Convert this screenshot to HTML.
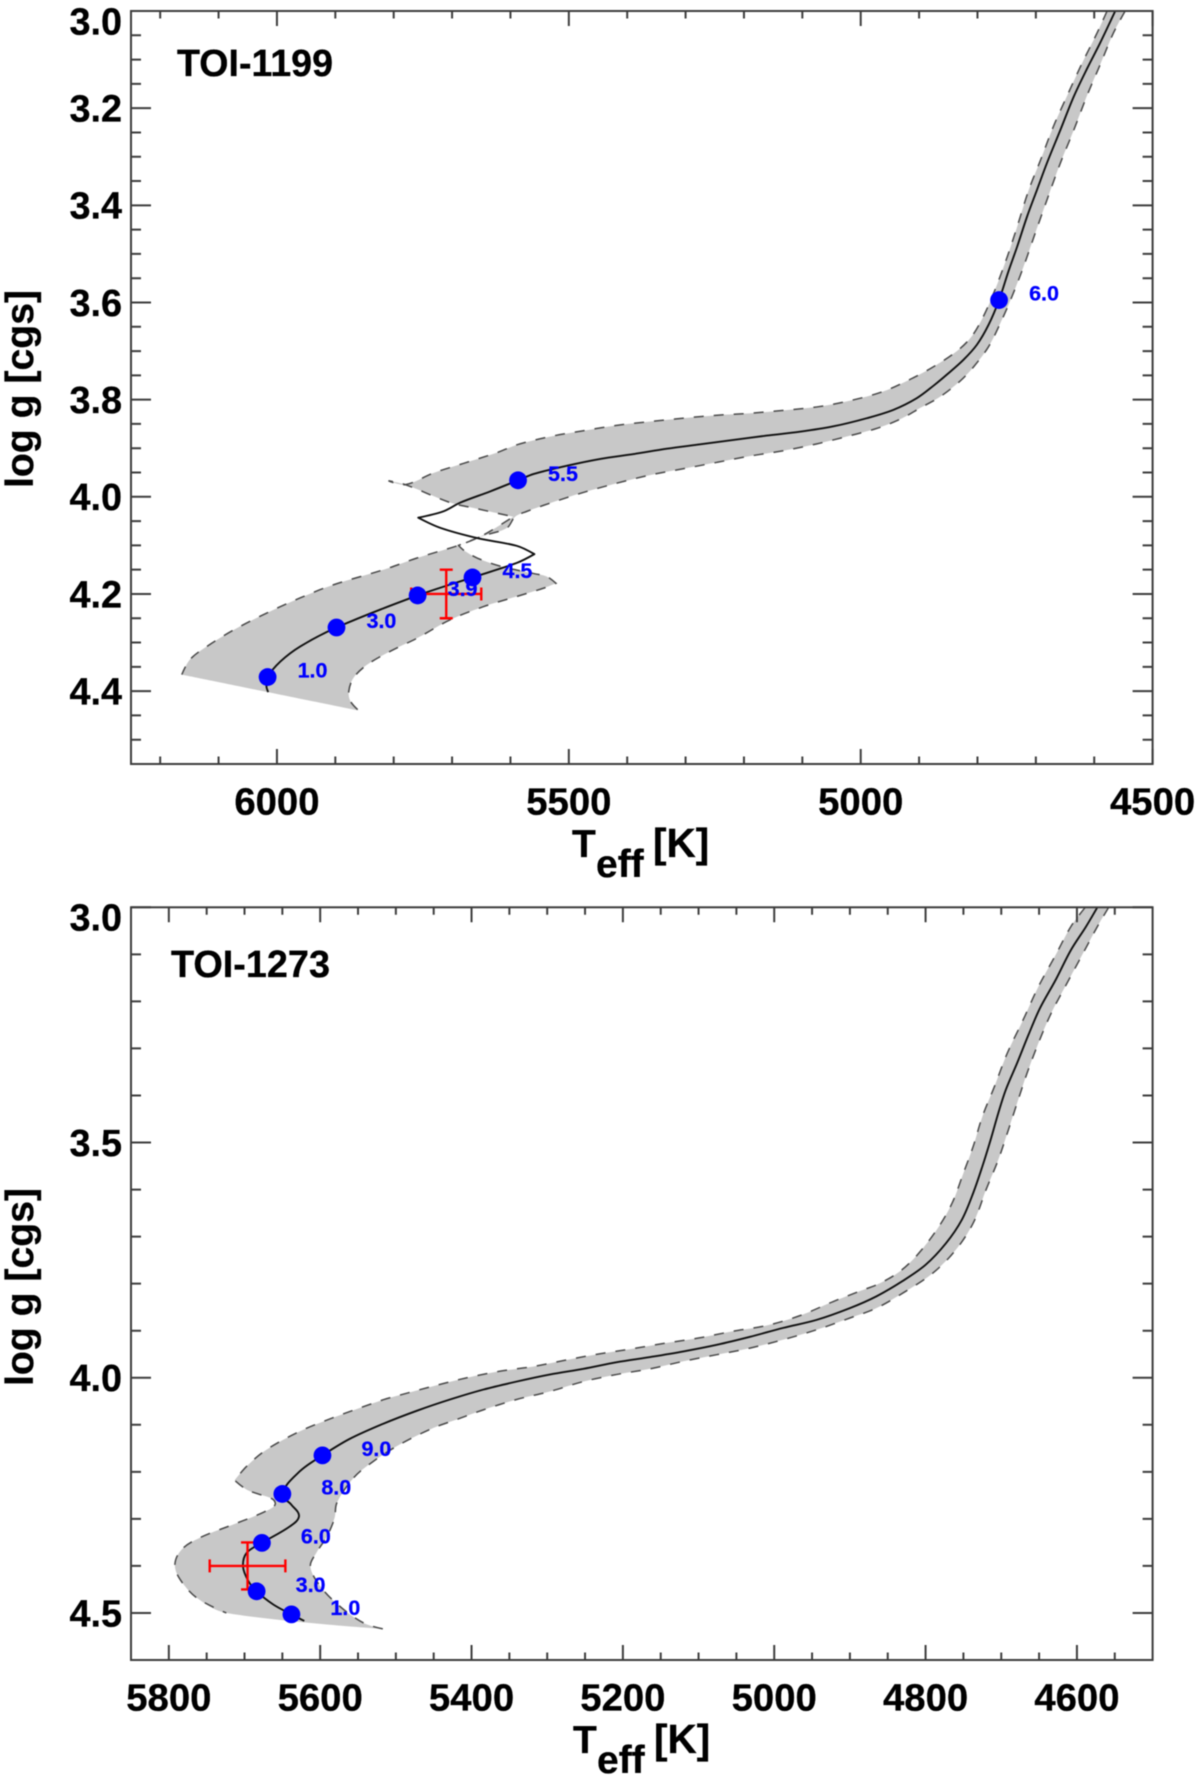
<!DOCTYPE html>
<html lang="en">
<head>
<meta charset="utf-8">
<title>TOI-1199 and TOI-1273 Kiel diagrams</title>
<style>
html,body{margin:0;padding:0;background:#fff;}
svg{display:block;filter:blur(0.45px);}
text{font-family:"Liberation Sans",Arial,sans-serif;font-weight:bold;}
</style>
</head>
<body>
<svg id="fig" xmlns="http://www.w3.org/2000/svg" width="1200" height="1779" viewBox="0 0 1200 1779">
  <rect x="0" y="0" width="1200" height="1779" fill="#fff"/>
  <g id="panel-top"></g>
  <g id="panel-bottom"></g>

  <text x="177" y="76" font-size="37.6" fill="#000" stroke="#000" stroke-width="0.3">TOI-1199</text>
  <text x="171" y="977" font-size="37.8" fill="#000" stroke="#000" stroke-width="0.3">TOI-1273</text>

  <text transform="translate(33,389) rotate(-90)" text-anchor="middle" font-size="39.2" fill="#000" stroke="#000" stroke-width="0.3">log g [cgs]</text>
  <text transform="translate(33,1287) rotate(-90)" text-anchor="middle" font-size="39.2" fill="#000" stroke="#000" stroke-width="0.3">log g [cgs]</text>

  <g font-size="39" fill="#000" stroke="#000" stroke-width="0.3">
    <text x="572" y="857">T</text>
    <text x="596" y="877">eff</text>
    <text x="653" y="857" font-size="40.5">[K]</text>
  </g>
  <g font-size="39" fill="#000" stroke="#000" stroke-width="0.3">
    <text x="573" y="1753">T</text>
    <text x="597" y="1773">eff</text>
    <text x="654" y="1753" font-size="40.5">[K]</text>
  </g>
</svg>
<script>
// ---------- TOI-1199 (top panel) ----------
const xDomainTop = [6250, 4500];
const yDomainTop = [3.0, 4.55];
const xMajorTop = [6000, 5500, 5000, 4500];
const xMinorTop = [6200, 6100, 5900, 5800, 5700, 5600, 5400, 5300, 5200, 5100, 4900, 4800, 4700, 4600];
const yMajorTop = ['3.0', '3.2', '3.4', '3.6', '3.8', '4.0', '4.2', '4.4'];
const yMinorTop = [3.05, 3.10, 3.15, 3.25, 3.30, 3.35, 3.45, 3.50, 3.55, 3.65, 3.70, 3.75, 3.85, 3.90, 3.95, 4.05, 4.10, 4.15, 4.25, 4.30, 4.35, 4.45, 4.50];
const xLabelsTop = ['6000', '5500', '5000', '4500'];

const lineTeffTop = [4564,4590,4612,4635,4658,4681,4698,4715,4732,4747,4763,4781,4801,4824,4852,4875,4904,4944,4989,5047,5104,5161,5218,5275,5332,5389,5446,5503,5560,5587,5635,5686,5715,5758,5720,5657,5589,5559,5589,5665,5759,5898,5960,5994,6016,6018,6015];
const lineLoggTop = [3.000,3.066,3.118,3.176,3.245,3.313,3.368,3.423,3.485,3.536,3.595,3.646,3.687,3.718,3.748,3.771,3.797,3.821,3.838,3.855,3.866,3.874,3.883,3.892,3.901,3.912,3.922,3.936,3.953,3.966,3.989,4.012,4.030,4.043,4.064,4.085,4.101,4.118,4.136,4.166,4.203,4.269,4.308,4.339,4.371,4.390,4.402];

const hotTeffTop = [4578,4595,4621,4647,4670,4692,4712,4732,4749,4770,4790,4810,4835,4875,4915,4961,5018,5075,5132,5189,5246,5303,5360,5418,5475,5532,5589,5623,5680,5732,5780,5809,5780,5703,5663,5595,5635,5657,5689,5760,5817,5903,5960,6017,6074,6120,6149,6163];
const hotLoggTop = [3.000,3.045,3.108,3.176,3.238,3.307,3.368,3.444,3.506,3.574,3.629,3.670,3.700,3.732,3.758,3.783,3.802,3.815,3.822,3.828,3.832,3.838,3.845,3.853,3.864,3.876,3.893,3.909,3.931,3.951,3.975,3.967,3.975,4.012,4.023,4.041,4.071,4.085,4.100,4.126,4.150,4.181,4.208,4.239,4.274,4.308,4.335,4.366];

const coolTeffTop = [4547,4567,4590,4612,4635,4658,4681,4701,4721,4741,4761,4781,4807,4830,4864,4898,4932,4972,5018,5075,5132,5189,5246,5303,5360,5418,5475,5532,5572,5592,5606,5640,5657,5689,5680,5657,5617,5560,5538,5522,5543,5589,5646,5703,5760,5806,5846,5869,5877,5874,5860];
const coolLoggTop = [3.000,3.045,3.111,3.173,3.245,3.313,3.389,3.457,3.526,3.588,3.643,3.691,3.733,3.762,3.794,3.817,3.840,3.859,3.874,3.891,3.905,3.916,3.929,3.942,3.955,3.972,3.991,4.013,4.030,4.041,4.064,4.078,4.085,4.100,4.110,4.126,4.143,4.158,4.164,4.178,4.188,4.205,4.226,4.253,4.291,4.318,4.346,4.373,4.401,4.421,4.440];

const ageLabelsTop = ['6.0', '5.5', '4.5', '3.9', '3.0', '1.0'];
const ageTeffTop = [4763, 5587, 5665, 5759, 5898, 6016];
const ageLoggTop = [3.595, 3.966, 4.166, 4.203, 4.269, 4.371];

const obsTeffTop = 5710;
const obsTeffErrTop = 60;
const obsLoggTop = 4.20;
const obsLoggErrTop = 0.05;

// ---------- TOI-1273 (bottom panel) ----------
const xDomainBottom = [5850, 4500];
const yDomainBottom = [3.0, 4.6];
const xMajorBottom = [5800, 5600, 5400, 5200, 5000, 4800, 4600];
const xMinorBottom = [5750, 5700, 5650, 5550, 5500, 5450, 5350, 5300, 5250, 5150, 5100, 5050, 4950, 4900, 4850, 4750, 4700, 4650, 4550];
const yMajorBottom = ['3.0', '3.5', '4.0', '4.5'];
const yMinorBottom = [3.1, 3.2, 3.3, 3.4, 3.6, 3.7, 3.8, 3.9, 4.1, 4.2, 4.3, 4.4];
const xLabelsBottom = ['5800', '5600', '5400', '5200', '5000', '4800', '4600'];

const lineTeffBottom = [4573,4588,4608,4628,4649,4664,4679,4694,4704,4714,4725,4737,4752,4773,4800,4831,4865,4900,4944,4988,5032,5076,5120,5164,5208,5252,5296,5340,5384,5428,5472,5517,5561,5597,5627,5650,5638,5628,5640,5677,5697,5702,5695,5684,5662,5638,5621];
const lineLoggBottom = [3.000,3.041,3.091,3.154,3.215,3.271,3.331,3.388,3.438,3.494,3.551,3.607,3.664,3.714,3.760,3.795,3.827,3.852,3.877,3.894,3.913,3.930,3.944,3.956,3.967,3.981,3.993,4.008,4.025,4.046,4.070,4.098,4.130,4.165,4.199,4.247,4.270,4.294,4.316,4.351,4.372,4.401,4.432,4.454,4.482,4.503,4.517];

const hotTeffBottom = [4589,4608,4628,4651,4671,4692,4709,4725,4737,4750,4765,4785,4811,4834,4860,4887,4922,4966,5010,5054,5098,5142,5186,5230,5274,5318,5362,5406,5451,5495,5517,5583,5627,5671,5697,5713,5697,5680,5662,5660,5675,5715,5759,5783,5792,5785,5763,5724];
const hotLoggBottom = [3.000,3.041,3.101,3.169,3.239,3.310,3.381,3.445,3.508,3.565,3.629,3.685,3.739,3.774,3.799,3.816,3.838,3.868,3.889,3.901,3.915,3.926,3.938,3.949,3.962,3.976,3.986,4.000,4.018,4.037,4.047,4.085,4.114,4.153,4.188,4.218,4.238,4.248,4.259,4.271,4.286,4.312,4.340,4.365,4.397,4.429,4.468,4.500];

const coolTeffBottom = [4558,4573,4593,4613,4634,4651,4666,4679,4692,4704,4720,4737,4760,4790,4826,4865,4900,4944,4988,5032,5076,5120,5164,5208,5252,5296,5340,5384,5420,5451,5495,5530,5556,5578,5581,5591,5605,5613,5600,5574,5543,5517];
const coolLoggBottom = [3.000,3.041,3.101,3.161,3.225,3.289,3.353,3.416,3.480,3.537,3.600,3.671,3.728,3.777,3.816,3.852,3.873,3.898,3.919,3.937,3.951,3.965,3.981,3.993,4.008,4.029,4.046,4.068,4.089,4.107,4.142,4.178,4.213,4.266,4.298,4.337,4.372,4.401,4.443,4.486,4.521,4.534];

const ageLabelsBottom = ['9.0', '8.0', '6.0', '3.0', '1.0'];
const ageTeffBottom = [5597, 5650, 5677, 5684, 5638];
const ageLoggBottom = [4.165, 4.247, 4.351, 4.454, 4.503];

const obsTeffBottom = 5696;
const obsTeffErrBottom = 50;
const obsLoggBottom = 4.40;
const obsLoggErrBottom = 0.05;

const SVGNS = 'http://www.w3.org/2000/svg';
const AXIS = '#3d3d3d';
const CORNER_DEG = 85;

function make(parent, tag, attrs, txt) {
  const el = document.createElementNS(SVGNS, tag);
  for (const k in attrs) el.setAttribute(k, attrs[k]);
  if (txt !== undefined) el.textContent = txt;
  parent.appendChild(el);
  return el;
}

// Smooth path through the data points; sharp turns stay as corners.
function pathOf(xs, ys, sx, sy) {
  const px = xs.map(sx), py = ys.map(sy), n = px.length;
  const isCorner = function (i) {
    if (i === 0 || i === n - 1) return true;
    const a1 = Math.atan2(py[i] - py[i - 1], px[i] - px[i - 1]);
    const a2 = Math.atan2(py[i + 1] - py[i], px[i + 1] - px[i]);
    let da = Math.abs(a2 - a1) * 180 / Math.PI;
    if (da > 180) da = 360 - da;
    return da > CORNER_DEG;
  };
  const tangent = function (i) {
    if (isCorner(i)) return [0, 0];
    const dx = px[i + 1] - px[i - 1], dy = py[i + 1] - py[i - 1];
    const m = Math.hypot(dx, dy) || 1;
    return [dx / m, dy / m];
  };
  let d = 'M' + px[0].toFixed(2) + ' ' + py[0].toFixed(2);
  for (let i = 0; i < n - 1; i++) {
    const len = Math.hypot(px[i + 1] - px[i], py[i + 1] - py[i]) / 3;
    const t0 = tangent(i), t1 = tangent(i + 1);
    d += 'C' + (px[i] + t0[0] * len).toFixed(2) + ' ' + (py[i] + t0[1] * len).toFixed(2) + ' ' +
      (px[i + 1] - t1[0] * len).toFixed(2) + ' ' + (py[i + 1] - t1[1] * len).toFixed(2) + ' ' +
      px[i + 1].toFixed(2) + ' ' + py[i + 1].toFixed(2);
  }
  return d;
}

function drawPanel(root, box, d) {
  const L = 131, R = 1152.6, T = box.top, B = box.bottom;
  const sx = function (v) { return L + (d.xDomain[0] - v) / (d.xDomain[0] - d.xDomain[1]) * (R - L); };
  const sy = function (v) { return T + (v - d.yDomain[0]) / (d.yDomain[1] - d.yDomain[0]) * (B - T); };

  // shaded uncertainty band
  const revX = d.coolTeff.slice().reverse();
  const revY = d.coolLogg.slice().reverse();
  const band = make(root, 'path', {
    d: pathOf(d.hotTeff.concat(revX), d.hotLogg.concat(revY), sx, sy) + 'Z',
    fill: '#c8c8c8', stroke: 'none', 'fill-rule': 'nonzero'
  });
  
  

  const hot = make(root, 'path', {
    d: pathOf(d.hotTeff, d.hotLogg, sx, sy),
    fill: 'none', stroke: '#4a4a4a', 'stroke-width': 1.5, 'stroke-dasharray': '10 10'
  });
  
  

  const cool = make(root, 'path', {
    d: pathOf(d.coolTeff, d.coolLogg, sx, sy),
    fill: 'none', stroke: '#4a4a4a', 'stroke-width': 1.5, 'stroke-dasharray': '10 10'
  });
  
  

  const line = make(root, 'path', {
    d: pathOf(d.lineTeff, d.lineLogg, sx, sy),
    fill: 'none', stroke: '#111', 'stroke-width': 1.9, 'stroke-linejoin': 'round'
  });
  
  

  // observed error bars
  const ox = sx(d.obsTeff), oy = sy(d.obsLogg);
  const x0 = sx(d.obsTeff + d.obsTeffErr), x1 = sx(d.obsTeff - d.obsTeffErr);
  const y0 = sy(d.obsLogg - d.obsLoggErr), y1 = sy(d.obsLogg + d.obsLoggErr);
  const cap = 6.5;
  const errD = 'M' + x0 + ' ' + oy + 'L' + x1 + ' ' + oy +
    'M' + x0 + ' ' + (oy - cap) + 'L' + x0 + ' ' + (oy + cap) +
    'M' + x1 + ' ' + (oy - cap) + 'L' + x1 + ' ' + (oy + cap) +
    'M' + ox + ' ' + y0 + 'L' + ox + ' ' + y1 +
    'M' + (ox - cap) + ' ' + y0 + 'L' + (ox + cap) + ' ' + y0 +
    'M' + (ox - cap) + ' ' + y1 + 'L' + (ox + cap) + ' ' + y1;
  const err = make(root, 'path', { d: errD, fill: 'none', stroke: '#f00', 'stroke-width': 2.4 });
  
  

  // age labels then markers
  d.ageLabels.forEach(function (lab, i) {
    const t = make(root, 'text', {
      x: sx(d.ageTeff[i]) + box.ageDx, y: sy(d.ageLogg[i]) + 0.5,
      'font-size': 21.5, fill: '#0000ff', stroke: '#0000ff', 'stroke-width': 0.25
    }, lab);
    
    
  });
  d.ageLabels.forEach(function (lab, i) {
    const c = make(root, 'circle', {
      cx: sx(d.ageTeff[i]), cy: sy(d.ageLogg[i]), r: 8.9, fill: '#0000ff'
    });
    
    
  });

  // frame
  const frame = make(root, 'rect', {
    x: L, y: T, width: R - L, height: B - T, fill: 'none', stroke: AXIS, 'stroke-width': 2
  });
  
  

  function tickX(v, len) {
    const p = sx(v);
    const a = make(root, 'path', {
      d: 'M' + p + ' ' + B + 'V' + (B - len) + 'M' + p + ' ' + T + 'V' + (T + len),
      stroke: AXIS, 'stroke-width': 2, fill: 'none'
    });
    
    
  }
  function tickY(v, len) {
    const p = sy(v);
    const a = make(root, 'path', {
      d: 'M' + L + ' ' + p + 'H' + (L + len) + 'M' + R + ' ' + p + 'H' + (R - len),
      stroke: AXIS, 'stroke-width': 2, fill: 'none'
    });
    
    
  }
  d.xMajor.forEach(function (v) { tickX(v, 15); });
  d.xMinor.forEach(function (v) { tickX(v, 7.5); });
  d.yMajor.forEach(function (v) { tickY(parseFloat(v), 20); });
  d.yMinor.forEach(function (v) { tickY(v, 10); });

  d.xLabels.forEach(function (lab) {
    const t = make(root, 'text', {
      x: sx(parseFloat(lab)), y: B + 50.3, 'text-anchor': 'middle', 'font-size': 38.3,
      fill: '#000', stroke: '#000', 'stroke-width': 0.3
    }, lab);
    
    
  });
  d.yMajor.forEach(function (lab, i) {
    const t = make(root, 'text', {
      x: 122, y: sy(parseFloat(lab)) + 13.4 + (i === 0 ? 10 : 0),
      'text-anchor': 'end', 'font-size': 37.8,
      fill: '#000', stroke: '#000', 'stroke-width': 0.3
    }, lab);
    
    
  });
}

drawPanel(document.getElementById('panel-top'), { top: 11, bottom: 764, ageDx: 30 }, {
  xDomain: xDomainTop, yDomain: yDomainTop,
  xMajor: xMajorTop, xMinor: xMinorTop, yMajor: yMajorTop, yMinor: yMinorTop, xLabels: xLabelsTop,
  lineTeff: lineTeffTop, lineLogg: lineLoggTop,
  hotTeff: hotTeffTop, hotLogg: hotLoggTop,
  coolTeff: coolTeffTop, coolLogg: coolLoggTop,
  ageLabels: ageLabelsTop, ageTeff: ageTeffTop, ageLogg: ageLoggTop,
  obsTeff: obsTeffTop, obsTeffErr: obsTeffErrTop, obsLogg: obsLoggTop, obsLoggErr: obsLoggErrTop
});

drawPanel(document.getElementById('panel-bottom'), { top: 907.3, bottom: 1660, ageDx: 39 }, {
  xDomain: xDomainBottom, yDomain: yDomainBottom,
  xMajor: xMajorBottom, xMinor: xMinorBottom, yMajor: yMajorBottom, yMinor: yMinorBottom, xLabels: xLabelsBottom,
  lineTeff: lineTeffBottom, lineLogg: lineLoggBottom,
  hotTeff: hotTeffBottom, hotLogg: hotLoggBottom,
  coolTeff: coolTeffBottom, coolLogg: coolLoggBottom,
  ageLabels: ageLabelsBottom, ageTeff: ageTeffBottom, ageLogg: ageLoggBottom,
  obsTeff: obsTeffBottom, obsTeffErr: obsTeffErrBottom, obsLogg: obsLoggBottom, obsLoggErr: obsLoggErrBottom
});
</script>
</body>
</html>
